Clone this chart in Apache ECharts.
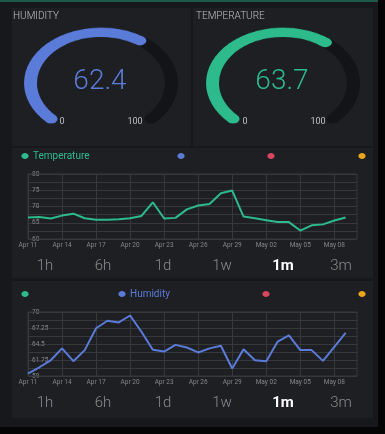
<!DOCTYPE html>
<html>
<head>
<meta charset="utf-8">
<script src="https://cdn.jsdelivr.net/npm/echarts@6/dist/echarts.min.js"></script>
<style>
html,body{margin:0;padding:0;background:#17181c;overflow:hidden;}
#wrap{position:relative;width:385px;height:434px;}
#main{position:absolute;left:0;top:0;width:385px;height:434px;}
.gauge{position:absolute;width:170px;height:170px;transform:scaleY(0.72);transform-origin:50% 50%;}
</style>
</head>
<body>
<div id="wrap">
  <div id="main"></div>
  <div id="g1" class="gauge" style="left:16px;top:-2px"></div>
  <div id="g2" class="gauge" style="left:198px;top:-2px"></div>
</div>
<script>
// ---- data ----
const gaugeTitles = ['HUMIDITY', 'TEMPERATURE'];
const humidityValue = 62.4;
const temperatureValue = 63.7;
const gaugeMin = 0;
const gaugeMax = 100;

const categories = ['Apr 11','Apr 12','Apr 13','Apr 14','Apr 15','Apr 16','Apr 17','Apr 18','Apr 19','Apr 20',
  'Apr 21','Apr 22','Apr 23','Apr 24','Apr 25','Apr 26','Apr 27','Apr 28','Apr 29','Apr 30',
  'May 01','May 02','May 03','May 04','May 05','May 06','May 07','May 08','May 09','May 10'];

const temperature = [66.6, 66.8, 66.3, 67.2, 67.8, 66.4, 65.9, 65.9, 66.1, 66.4,
  67.1, 71.3, 66.3, 66.5, 69.1, 70.3, 70.8, 74.1, 74.9, 66.9,
  66.4, 65.8, 65.2, 65.2, 62.6, 64.2, 64.5, 65.7, 66.6];

const humidity = [59.4, 60.5, 61.7, 63.75, 61.55, 63.45, 67.2, 68.5, 68.2, 69.4,
  66.6, 63.5, 63.2, 64.35, 63.9, 63.05, 63.75, 64.2, 60.3, 63.6,
  61.7, 61.55, 64.9, 66.0, 63.45, 63.45, 61.6, 64.0, 66.4];

const tempTicks = {min: 60, max: 80, interval: 5};
const humTicks = {min: 59, max: 70, interval: 2.75};
const seriesNames = ['Temperature', 'Humidity'];
const periods = ['1h', '6h', '1d', '1w', '1m', '3m'];
const selectedPeriod = '1m';

// ---- styles ----
const C = {
  green: '#2dbb8b', blue: '#5b7bd8', red: '#d9465f', orange: '#e9a51c',
  panel: '#1e1f23', track: '#131417', grid: '#37383c', axisText: '#85868a',
  title: '#bfc0c4', btn: '#8a8b90'
};
const FONT = 'Roboto';

function txt(text, x, y, opt) {
  const o = opt || {};
  return {
    type: 'text', silent: true, z: 10,
    style: Object.assign({
      text: text, x: x, y: y,
      align: o.align || 'left', textAlign: o.align || 'left',
      verticalAlign: 'middle', textVerticalAlign: 'middle',
      fontSize: o.size || 10, fontFamily: FONT, fontWeight: o.weight || 'normal',
      fill: o.color || C.title
    })
  };
}
function rect(x, y, w, h, fill) {
  return {type: 'rect', silent: true, z: 0, shape: {x: x, y: y, width: w, height: h}, style: {fill: fill}};
}
function dot(x, y, fill) {
  return {type: 'ellipse', silent: true, z: 10, shape: {cx: x, cy: y, rx: 3.6, ry: 3}, style: {fill: fill}};
}

const graphics = [
  rect(0, 0, 385, 2, '#1c5a47'),
  rect(12, 8, 179, 138, C.panel),
  rect(193, 8, 180, 138, C.panel),
  rect(12, 148, 361, 130, C.panel),
  rect(12, 281, 361, 137, C.panel),
  rect(378, 0, 7, 434, '#050506'),
  rect(0, 427, 385, 7, '#050506'),
  txt(gaugeTitles[0], 13, 16, {size: 10, weight: 300, color: C.title}),
  txt(gaugeTitles[1], 196, 16, {size: 10, weight: 300, color: C.title}),
  txt(String(humidityValue), 100, 82, {align: 'center', size: 28, weight: 300, color: C.blue}),
  txt(String(temperatureValue), 282, 82, {align: 'center', size: 28, weight: 300, color: C.green}),
  txt(String(gaugeMin), 62, 122, {align: 'center', size: 9, color: C.title}),
  txt(String(gaugeMax), 135, 122, {align: 'center', size: 9, color: C.title}),
  txt(String(gaugeMin), 245, 122, {align: 'center', size: 9, color: C.title}),
  txt(String(gaugeMax), 318, 122, {align: 'center', size: 9, color: C.title}),
  // legend rows
  dot(25, 156, C.green), txt(seriesNames[0], 33, 156, {size: 10, color: C.green}),
  dot(181, 156, C.blue), dot(271, 156, C.red), dot(362, 156, C.orange),
  dot(25, 294, C.green), dot(122, 294, C.blue), txt(seriesNames[1], 130, 294, {size: 10, color: C.blue}),
  dot(266, 294, C.red), dot(362, 294, C.orange)
];
const btnX = [45, 103, 163, 222, 283, 341];
[266, 403].forEach(function (y) {
  periods.forEach(function (p, i) {
    const sel = p === selectedPeriod;
    graphics.push(txt(p, btnX[i], y, {align: 'center', size: 15, weight: sel ? 'bold' : 300, color: sel ? '#ffffff' : C.btn}));
  });
});

function xAxisFor(i) {
  return {
    type: 'category', gridIndex: i, data: categories, boundaryGap: false,
    axisLine: {show: false}, axisTick: {show: false},
    axisLabel: {interval: 2, fontSize: 6.5, color: C.axisText, margin: 3, fontFamily: FONT},
    splitLine: {show: true, interval: 2, lineStyle: {color: C.grid, width: 1}}
  };
}
function yAxisFor(i, t) {
  return {
    type: 'value', gridIndex: i, min: t.min, max: t.max, interval: t.interval,
    axisLine: {show: false}, axisTick: {show: false},
    axisLabel: {inside: true, fontSize: 6.5, color: C.axisText, margin: 4, fontFamily: FONT},
    splitLine: {show: true, lineStyle: {color: C.grid, width: 1}},
    minorTick: {show: false, splitNumber: 2},
    minorSplitLine: {show: true, lineStyle: {color: C.grid, width: 1}}
  };
}

const main = echarts.init(document.getElementById('main'));
main.setOption({
  backgroundColor: '#17181c',
  animation: false,
  graphic: graphics,
  grid: [
    {left: 28, right: 28, top: 174, height: 65, show: true, borderColor: C.grid, borderWidth: 1, z: 5},
    {left: 28, right: 28, top: 312, height: 64, show: true, borderColor: C.grid, borderWidth: 1, z: 5}
  ],
  xAxis: [xAxisFor(0), xAxisFor(1)],
  yAxis: [yAxisFor(0, tempTicks), yAxisFor(1, humTicks)],
  series: [
    {name: seriesNames[0], type: 'line', xAxisIndex: 0, yAxisIndex: 0, data: temperature,
      symbol: 'none', lineStyle: {color: C.green, width: 2}, itemStyle: {color: C.green}, z: 6},
    {name: seriesNames[1], type: 'line', xAxisIndex: 1, yAxisIndex: 1, data: humidity,
      symbol: 'none', lineStyle: {color: C.blue, width: 2}, itemStyle: {color: C.blue}, z: 6}
  ]
});

function gaugeOption(value, color) {
  return {
    animation: false,
    series: [{
      type: 'gauge', center: ['50%', '50%'], radius: 77,
      startAngle: 225, endAngle: -45, min: gaugeMin, max: gaugeMax,
      progress: {show: true, roundCap: true, width: 13, itemStyle: {color: color}},
      axisLine: {roundCap: true, lineStyle: {width: 13, color: [[1, C.track]]}},
      pointer: {show: false}, anchor: {show: false},
      axisTick: {show: false}, splitLine: {show: false}, axisLabel: {show: false},
      title: {show: false}, detail: {show: false},
      data: [{value: value}]
    }]
  };
}
echarts.init(document.getElementById('g1')).setOption(gaugeOption(humidityValue, C.blue));
echarts.init(document.getElementById('g2')).setOption(gaugeOption(temperatureValue, C.green));
</script>
</body>
</html>
